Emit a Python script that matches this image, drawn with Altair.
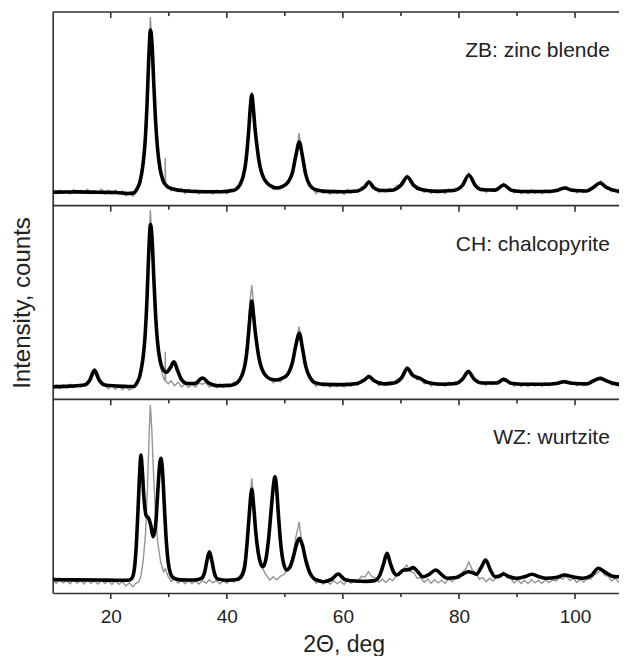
import altair as alt
import pandas as pd

# ---------------- data (arbitrary intensity units, 0-100 per panel) ----------------
panels = ["ZB", "CH", "WZ"]
panel_labels = ["ZB: zinc blende", "CH: chalcopyrite", "WZ: wurtzite"]

# fitted (black) profiles: (2theta, intensity)
zb_fit = [(10, 7.0), (14, 7.1), (18, 6.9), (21, 6.8), (23, 6.3), (24.0, 6.6), (24.5, 8.5), (25.0, 12), (25.5, 20),
          (25.9, 32), (26.25, 52), (26.55, 76), (26.85, 90.7), (27.1, 84), (27.4, 64), (27.7, 45), (28.05, 30),
          (28.5, 19), (29.0, 13), (29.6, 10.3), (30.3, 9.0), (31, 8.3), (33, 7.6), (36, 7.2), (39, 7.2),
          (41, 7.8), (41.8, 9.0), (42.3, 11), (42.8, 15), (43.2, 21), (43.5, 29), (43.8, 40), (44.05, 51),
          (44.3, 57.2), (44.55, 51), (44.85, 40), (45.15, 32), (45.5, 24), (45.9, 18), (46.4, 14), (47.0, 11.5),
          (47.8, 9.8), (48.5, 9.1), (49.5, 9.8), (50.5, 12), (51.3, 17), (51.9, 26), (52.5, 32.9), (53.0, 26),
          (53.6, 16), (54.3, 10.5), (55.3, 8.2), (57, 7.4), (60, 7.2), (62.5, 7.6), (63.7, 9.5), (64.5, 12.2),
          (65.3, 9.3), (66.5, 7.8), (68.5, 8.0), (70, 10.5), (71.1, 14.8), (72.2, 10.5), (73.5, 8.3), (76, 7.4),
          (79, 7.8), (80.6, 10.5), (81.7, 15.8), (82.8, 10.5), (84, 8.2), (86.3, 8.0), (87.7, 10.7), (89, 8.0),
          (91, 7.3), (95, 7.3), (97, 8.0), (98.2, 9.1), (99.5, 8.0), (102, 7.6), (103.2, 9.5), (104.3, 11.7),
          (105.5, 9.3), (107, 7.7), (108.9, 7.3)]

ch_fit = [(10, 6.5), (13, 6.8), (15.5, 7.4), (16.4, 10), (17.2, 15.1), (18.0, 10), (19, 7.4), (21, 6.9), (23, 6.6),
          (24.0, 6.6), (24.5, 8.5), (25.0, 12), (25.5, 20), (25.9, 32), (26.25, 52), (26.55, 76), (26.85, 90.3),
          (27.1, 84), (27.4, 64), (27.7, 45), (28.05, 30), (28.5, 20), (29.0, 15.5), (29.6, 14), (30.3, 16.5),
          (30.9, 19.4), (31.5, 15), (32.2, 10.2), (33.2, 8.2), (34.5, 8.2), (35.8, 11.0), (37, 8.2), (38.5, 7.0),
          (40.5, 7.2), (41.2, 7.6), (41.8, 8.6), (42.3, 10.5), (42.8, 14), (43.2, 19), (43.5, 26), (43.8, 36),
          (44.05, 45), (44.3, 50.7), (44.55, 45), (44.85, 36), (45.15, 29), (45.5, 22), (45.9, 17), (46.4, 13.5),
          (47.0, 11.4), (47.8, 10.2), (48.5, 10.0), (49.5, 10.8), (50.5, 13), (51.3, 19), (51.9, 28), (52.5, 34.1),
          (53.0, 27), (53.6, 17), (54.3, 11.5), (55.3, 8.5), (57, 7.7), (60, 7.6), (62.5, 8.2), (63.7, 10),
          (64.5, 11.7), (65.4, 9.6), (67, 8.0), (69, 8.6), (70.2, 11.5), (71.1, 16.0), (72.0, 12.5), (73.3, 10.8),
          (74.5, 8.8), (77, 7.8), (79.5, 8.2), (80.7, 10.8), (81.6, 14.3), (82.6, 10.5), (84, 8.4), (86.5, 8.4),
          (87.7, 10.3), (89, 8.3), (91, 7.8), (95, 7.8), (97, 8.3), (98.0, 9.1), (99.5, 8.3), (102, 8.0),
          (103.2, 9.6), (104.3, 10.8), (105.5, 9.4), (107, 8.0), (108.9, 7.7)]

wz_fit = [(10, 6.9), (14, 6.8), (18, 6.7), (21, 6.6), (23, 6.6), (23.6, 7.5), (24.0, 11), (24.35, 22), (24.7, 43),
          (25.0, 63), (25.2, 71.2), (25.4, 65), (25.7, 50), (26.1, 40), (26.5, 38.7), (26.9, 35), (27.3, 29.1),
          (27.7, 34), (28.1, 52), (28.45, 67), (28.65, 69.5), (28.9, 64), (29.2, 47), (29.5, 30), (29.9, 16),
          (30.3, 10), (30.8, 7.8), (32, 6.8), (34.5, 6.7), (35.6, 7.5), (36.2, 11), (36.6, 17), (37.0, 21.3),
          (37.4, 17), (37.8, 11), (38.4, 7.3), (40, 6.6), (41.8, 7.0), (42.6, 9), (43.1, 14), (43.5, 26),
          (43.85, 40), (44.3, 53.5), (44.65, 44), (45.0, 31), (45.4, 21), (45.8, 15.5), (46.2, 13.6), (46.7, 17),
          (47.2, 28), (47.7, 45), (48.05, 56), (48.3, 60.0), (48.55, 55), (48.9, 40), (49.3, 25), (49.8, 15),
          (50.3, 11.9), (50.8, 13), (51.4, 18), (52.0, 25), (52.5, 28.2), (53.0, 25), (53.6, 17), (54.3, 10.5),
          (55.0, 7.5), (55.8, 6.4), (56.6, 5.8), (58.0, 7.0), (59.2, 9.8), (60.3, 7.0), (62, 6.2), (64, 6.0),
          (65.5, 6.4), (66.4, 9.5), (67.0, 15), (67.6, 20.5), (68.2, 15), (68.8, 10.5), (69.3, 9.3), (70.5, 11.9),
          (71.3, 12.0), (72.1, 13.1), (72.9, 11.0), (73.8, 8.4), (74.8, 9.5), (76.0, 11.9), (77.0, 9.5),
          (77.9, 7.6), (79.5, 8.0), (80.6, 9.6), (81.6, 11.0), (82.4, 10.4), (83.0, 9.7), (83.8, 13), (84.6, 17.0),
          (85.4, 12), (86.2, 8.4), (87.0, 8.8), (87.7, 9.8), (88.6, 8.5), (89.9, 7.6), (91.3, 8.4), (92.6, 9.7),
          (93.8, 8.4), (95.1, 7.6), (96.7, 8.0), (98.2, 9.3), (99.8, 8.2), (101.4, 7.6), (102.8, 9.0),
          (104.0, 12.8), (105.3, 10.5), (106.3, 8.8), (107.2, 8.4), (108.9, 9.3)]

# measured (gray) patterns: (2theta, intensity)
zb_exp = [(10, 7.5), (10.6, 6.2), (11.2, 8.0), (11.8, 6.6), (12.4, 7.8), (13.0, 6.0), (13.6, 8.3), (14.2, 6.5),
          (14.8, 7.9), (15.4, 6.3), (16.0, 8.4), (16.6, 6.1), (17.2, 7.7), (17.8, 6.4), (18.4, 8.6), (19.0, 6.2),
          (19.6, 7.9), (20.2, 5.9), (20.8, 8.1), (21.4, 6.3), (22.0, 7.6), (22.6, 5.2), (23.2, 7.0), (23.8, 5.0),
          (24.3, 7.4), (24.7, 8.8), (25.2, 12.5), (25.6, 20), (26.0, 33), (26.3, 53), (26.6, 80), (26.82, 97.4),
          (27.05, 87), (27.35, 66), (27.7, 46), (28.1, 29), (28.6, 18), (29.1, 12.5), (29.35, 12), (29.4, 24.6),
          (29.45, 11), (29.9, 9.8), (30.4, 7.6), (31.0, 9.4), (31.6, 7.2), (32.2, 8.8), (32.8, 6.4), (33.4, 8.5),
          (34.0, 6.6), (34.6, 8.2), (35.2, 6.1), (35.8, 8.0), (36.4, 6.5), (37.0, 7.9), (37.6, 6.0), (38.2, 8.1),
          (38.8, 6.7), (39.4, 7.6), (40.0, 6.2), (40.6, 8.6), (41.2, 7.3), (41.8, 9.8), (42.4, 11), (42.9, 16),
          (43.3, 23), (43.7, 36), (44.0, 50), (44.3, 58.7), (44.55, 52), (44.85, 41), (45.2, 31), (45.6, 22),
          (46.1, 16), (46.7, 12), (47.4, 10.5), (48.0, 8.4), (48.6, 9.8), (49.2, 8.6), (49.8, 10.8),
          (50.4, 11.8), (51.0, 15), (51.5, 20), (51.9, 27), (52.3, 34), (52.45, 37.5), (52.7, 31), (53.1, 24),
          (53.6, 16), (54.2, 11), (54.8, 8.4), (55.4, 6.2), (56.0, 8.3), (56.6, 6.4), (57.2, 7.8), (57.8, 5.9),
          (58.4, 8.1), (59.0, 6.3), (59.6, 7.6), (60.2, 5.8), (60.8, 8.4), (61.4, 6.4), (62.0, 7.9), (62.6, 7.0),
          (63.2, 9.8), (63.8, 9.4), (64.4, 12.8), (65.0, 9.6), (65.6, 9.0), (66.2, 6.8), (66.8, 8.6), (67.4, 7.0),
          (68.0, 8.9), (68.6, 7.8), (69.2, 10.4), (69.8, 10.8), (70.4, 13.2), (71.0, 15.8), (71.6, 12.0),
          (72.2, 11.3), (72.8, 8.6), (73.4, 9.0), (74.0, 6.8), (74.6, 8.4), (75.2, 6.3), (75.8, 8.2), (76.4, 6.5),
          (77.0, 7.9), (77.6, 6.2), (78.2, 8.6), (78.8, 7.1), (79.4, 9.0), (80.0, 8.5), (80.6, 11.4), (81.2, 13.2),
          (81.7, 16.8), (82.3, 12.6), (82.9, 11.0), (83.5, 8.4), (84.1, 9.2), (84.7, 6.9), (85.3, 8.8), (85.9, 7.4),
          (86.5, 9.2), (87.1, 9.0), (87.7, 11.6), (88.3, 8.9), (88.9, 8.8), (89.5, 6.5), (90.1, 8.1), (90.7, 6.2),
          (91.3, 7.9), (91.9, 6.0), (92.5, 8.3), (93.1, 6.4), (93.7, 7.7), (94.3, 6.1), (94.9, 8.2), (95.5, 6.5),
          (96.1, 7.8), (96.7, 7.2), (97.3, 9.0), (97.9, 8.4), (98.5, 9.9), (99.1, 7.6), (99.7, 8.7), (100.3, 6.6),
          (100.9, 8.3), (101.5, 6.8), (102.1, 8.4), (102.7, 8.2), (103.3, 10.4), (103.9, 11.0), (104.5, 12.8),
          (105.1, 10.0), (105.7, 9.4), (106.3, 7.2), (106.9, 8.5), (107.5, 6.4), (108.1, 8.0), (108.9, 6.9)]

ch_exp = [(10, 6.0), (10.6, 7.6), (11.2, 5.6), (11.8, 7.4), (12.4, 5.9), (13.0, 7.8), (13.6, 6.0), (14.2, 7.5),
          (14.8, 6.3), (15.4, 8.0), (16.0, 8.6), (16.6, 11.5), (17.2, 13.5), (17.8, 10.2), (18.4, 7.4), (19.0, 7.0),
          (19.6, 5.5), (20.2, 7.3), (20.8, 5.2), (21.4, 7.0), (22.0, 5.0), (22.6, 6.8), (23.2, 4.8), (23.8, 6.2),
          (24.3, 6.9), (24.7, 8.8), (25.2, 12.5), (25.6, 20), (26.0, 33), (26.3, 53), (26.6, 80), (26.82, 97.7),
          (27.05, 87), (27.35, 66), (27.7, 45), (28.1, 27), (28.6, 16), (29.1, 11), (29.35, 9.5), (29.4, 24.6),
          (29.45, 9.5), (29.9, 8.0), (30.4, 9.5), (31.0, 7.0), (31.6, 8.8), (32.2, 6.5), (32.8, 8.0), (33.4, 6.2),
          (34.0, 7.8), (34.6, 6.4), (35.2, 8.4), (35.8, 7.8), (36.4, 8.6), (37.0, 6.2), (37.6, 7.6), (38.2, 5.9),
          (38.8, 7.9), (39.4, 6.3), (40.0, 7.8), (40.6, 6.5), (41.2, 8.9), (41.8, 8.4), (42.4, 11.5), (42.9, 16),
          (43.3, 24), (43.7, 37), (44.0, 51), (44.3, 59.0), (44.55, 51), (44.85, 40), (45.2, 30), (45.6, 21),
          (46.1, 15.5), (46.7, 12), (47.4, 10.8), (48.0, 8.6), (48.6, 10.0), (49.2, 9.0), (49.8, 11.2),
          (50.4, 12.6), (51.0, 16), (51.5, 22), (51.9, 30), (52.3, 35), (52.45, 37.5), (52.7, 32), (53.1, 24),
          (53.6, 16), (54.2, 11), (54.8, 8.8), (55.4, 6.6), (56.0, 8.5), (56.6, 6.8), (57.2, 8.2), (57.8, 6.3),
          (58.4, 8.3), (59.0, 6.6), (59.6, 8.1), (60.2, 6.4), (60.8, 8.6), (61.4, 6.9), (62.0, 8.4), (62.6, 7.4),
          (63.2, 10.0), (63.8, 9.6), (64.4, 12.4), (65.0, 9.8), (65.6, 9.4), (66.2, 7.0), (66.8, 8.8), (67.4, 7.3),
          (68.0, 9.0), (68.6, 8.2), (69.2, 10.2), (69.8, 11.0), (70.4, 13.6), (71.0, 16.6), (71.6, 12.8),
          (72.2, 12.4), (72.8, 10.0), (73.4, 10.6), (74.0, 8.0), (74.6, 9.0), (75.2, 6.8), (75.8, 8.6), (76.4, 7.0),
          (77.0, 8.4), (77.6, 6.8), (78.2, 8.8), (78.8, 7.4), (79.4, 9.2), (80.0, 8.8), (80.6, 11.0), (81.2, 12.6),
          (81.6, 15.0), (82.2, 12.2), (82.8, 10.6), (83.4, 8.6), (84.0, 9.2), (84.6, 7.2), (85.2, 9.0), (85.8, 7.6),
          (86.4, 9.2), (87.0, 8.8), (87.7, 11.0), (88.3, 8.8), (88.9, 9.0), (89.5, 6.8), (90.1, 8.6), (90.7, 6.6),
          (91.3, 8.4), (91.9, 6.5), (92.5, 8.6), (93.1, 6.9), (93.7, 8.2), (94.3, 6.6), (94.9, 8.7), (95.5, 7.0),
          (96.1, 8.4), (96.7, 7.6), (97.3, 9.2), (97.9, 8.6), (98.5, 9.8), (99.1, 7.8), (99.7, 8.8), (100.3, 7.0),
          (100.9, 8.6), (101.5, 7.1), (102.1, 8.6), (102.7, 8.4), (103.3, 10.2), (103.9, 10.4), (104.5, 11.6),
          (105.1, 9.8), (105.7, 9.6), (106.3, 7.4), (106.9, 8.8), (107.5, 6.8), (108.1, 8.4), (108.9, 7.2)]

wz_exp = [(10, 6.6), (10.6, 5.0), (11.2, 6.8), (11.8, 5.2), (12.4, 6.4), (13.0, 4.8), (13.6, 6.9), (14.2, 5.1),
          (14.8, 6.5), (15.4, 4.7), (16.0, 6.8), (16.6, 5.0), (17.2, 6.3), (17.8, 4.6), (18.4, 6.7), (19.0, 4.9),
          (19.6, 6.2), (20.2, 4.4), (20.8, 6.4), (21.4, 4.5), (22.0, 5.8), (22.6, 3.6), (23.2, 5.2), (23.8, 3.2),
          (24.3, 5.0), (24.8, 5.6), (25.2, 8.8), (25.6, 17), (26.0, 31), (26.3, 52), (26.6, 80), (26.82, 97.1),
          (27.05, 86), (27.35, 63), (27.7, 42), (28.1, 26), (28.6, 16), (29.1, 11), (29.4, 12.5), (29.9, 8.4),
          (30.4, 6.0), (31.0, 7.4), (31.6, 5.0), (32.2, 6.6), (32.8, 4.8), (33.4, 6.5), (34.0, 4.9), (34.6, 6.3),
          (35.2, 4.6), (35.8, 6.4), (36.4, 5.0), (37.0, 6.8), (37.6, 5.2), (38.2, 6.5), (38.8, 4.8), (39.4, 6.2),
          (40.0, 5.0), (40.6, 6.6), (41.2, 5.6), (41.8, 7.6), (42.4, 9.5), (42.9, 14), (43.3, 21), (43.7, 34),
          (44.0, 49), (44.3, 59.2), (44.55, 51), (44.85, 39), (45.2, 28), (45.6, 19), (46.1, 13), (46.7, 9.6),
          (47.4, 6.6), (48.0, 8.4), (48.6, 6.8), (49.2, 8.6), (49.8, 9.4), (50.4, 11.6), (51.0, 15), (51.5, 21),
          (51.9, 29), (52.3, 34), (52.45, 36.8), (52.7, 31), (53.1, 23), (53.6, 15), (54.2, 10), (54.8, 7.6),
          (55.4, 5.0), (56.0, 6.6), (56.6, 4.6), (57.2, 6.2), (57.8, 4.5), (58.4, 6.4), (59.0, 4.8), (59.6, 6.1),
          (60.2, 4.4), (60.8, 6.6), (61.4, 5.0), (62.0, 6.8), (62.6, 6.0), (63.2, 8.6), (63.8, 8.2), (64.4, 11.0),
          (65.0, 8.4), (65.6, 8.0), (66.2, 5.6), (66.8, 7.2), (67.4, 5.4), (68.0, 7.4), (68.6, 6.4), (69.2, 9.0),
          (69.8, 9.8), (70.4, 12.2), (71.0, 14.5), (71.6, 11.2), (72.2, 10.6), (72.8, 7.6), (73.4, 8.0),
          (74.0, 5.6), (74.6, 7.2), (75.2, 5.0), (75.8, 6.8), (76.4, 5.2), (77.0, 6.6), (77.6, 4.9), (78.2, 7.2),
          (78.8, 5.8), (79.4, 7.8), (80.0, 7.6), (80.6, 10.8), (81.2, 12.6), (81.7, 16.0), (82.3, 11.8),
          (82.9, 10.2), (83.5, 7.2), (84.1, 8.0), (84.7, 5.8), (85.3, 7.6), (85.9, 6.2), (86.5, 8.2), (87.1, 8.0),
          (87.7, 10.9), (88.3, 7.8), (88.9, 7.6), (89.5, 5.2), (90.1, 6.8), (90.7, 4.9), (91.3, 6.6), (91.9, 4.8),
          (92.5, 7.0), (93.1, 5.2), (93.7, 6.5), (94.3, 4.9), (94.9, 6.9), (95.5, 5.4), (96.1, 6.7), (96.7, 6.2),
          (97.3, 7.8), (97.9, 7.3), (98.5, 8.8), (99.1, 6.4), (99.7, 7.6), (100.3, 5.4), (100.9, 7.0), (101.5, 5.6),
          (102.1, 7.3), (102.7, 7.2), (103.3, 9.4), (103.9, 10.4), (104.5, 12.0), (105.1, 9.2), (105.7, 8.6),
          (106.3, 6.2), (106.9, 7.6), (107.5, 5.6), (108.1, 7.0), (108.9, 6.0)]

major_ticks = [20, 40, 60, 80, 100]
minor_ticks = [30, 50, 70, 90]

# ---------------- layout helpers ----------------
XMIN, XMAX = 10, 107.57          # visible part of the 10-110 axis (the reference is cropped at the right)
PLOT_W, PLOT_H = 566.3, 581
PANEL = 100                      # height of one panel in intensity units
offsets = {"ZB": 2 * PANEL, "CH": PANEL, "WZ": 0}
LABEL_X, LABEL_Y = 106, 76.8
FONT = "Liberation Sans, Arial, Helvetica, sans-serif"

rows = []
for name, fit, exp in [("ZB", zb_fit, zb_exp), ("CH", ch_fit, ch_exp), ("WZ", wz_fit, wz_exp)]:
    for x, y in exp:
        rows.append({"panel": name, "kind": "exp", "x": x, "y": y + offsets[name]})
    for x, y in fit:
        rows.append({"panel": name, "kind": "fit", "x": x, "y": y + offsets[name]})
df = pd.DataFrame(rows)

lab_df = pd.DataFrame({"panel": panels, "label": panel_labels,
                       "x": [LABEL_X] * 3, "y": [LABEL_Y + offsets[p] for p in panels]})

frame_df = pd.DataFrame({"y": [PANEL, 2 * PANEL, 3 * PANEL], "x0": [XMIN] * 3, "x1": [XMAX] * 3})

tick_rows = []
for level in [0, PANEL, 2 * PANEL, 3 * PANEL]:
    for t in major_ticks:
        tick_rows.append({"x": t, "y": level, "y2": level - 3.1})
    for t in minor_ticks:
        tick_rows.append({"x": t, "y": level, "y2": level - 2.1})
tick_df = pd.DataFrame(tick_rows)

xscale = alt.Scale(domain=[XMIN, XMAX], nice=False, zero=False)
yscale = alt.Scale(domain=[0, 3 * PANEL], nice=False, zero=False)

x_enc = alt.X("x:Q", scale=xscale, axis=alt.Axis(
    values=major_ticks, ticks=False, grid=False, labelPadding=14, labelFontSize=19, labelFont=FONT,
    labelColor="#222", domainColor="#333", domainWidth=1.6,
    title="2Θ, deg", titleFontSize=23, titleFont=FONT, titleFontWeight="normal", titleColor="#222",
    titleBaseline="alphabetic", titleY=58.5, titleX=291))
y_enc = alt.Y("y:Q", scale=yscale, axis=alt.Axis(
    labels=False, ticks=False, grid=False, domainColor="#333", domainWidth=1.6,
    title="Intensity, counts", titleFontSize=24, titleFont=FONT, titleFontWeight="normal",
    titleColor="#222", titlePadding=18))

exp_layer = alt.Chart(df).transform_filter(alt.datum.kind == "exp").mark_line(
    color="#959595", strokeWidth=1.4, clip=True).encode(x=x_enc, y=y_enc, detail="panel:N", order="x:Q")

fit_layer = alt.Chart(df).transform_filter(alt.datum.kind == "fit").mark_line(
    color="#000000", strokeWidth=3.6, interpolate="monotone", clip=True).encode(
    x="x:Q", y="y:Q", detail="panel:N", order="x:Q")

frame_layer = alt.Chart(frame_df).mark_rule(color="#333", strokeWidth=1.6).encode(
    x="x0:Q", x2="x1:Q", y="y:Q")

tick_layer = alt.Chart(tick_df).mark_rule(color="#333", strokeWidth=1.6).encode(
    x="x:Q", y="y:Q", y2="y2:Q")

text_layer = alt.Chart(lab_df).mark_text(
    align="right", baseline="alphabetic", fontSize=21, font=FONT, color="#222").encode(
    x="x:Q", y="y:Q", text="label:N")

chart = alt.layer(exp_layer, fit_layer, frame_layer, tick_layer, text_layer).properties(
    width=PLOT_W, height=PLOT_H,
    autosize=alt.AutoSizeParams(type="none"),
    padding={"left": 44.7, "top": 4, "right": 0, "bottom": 63},
).configure_view(stroke=None).configure(background="white")

chart.save("out.html", embed_options={"renderer": "svg", "actions": False})
